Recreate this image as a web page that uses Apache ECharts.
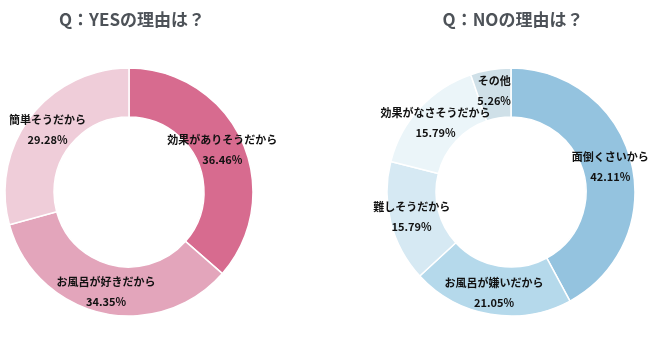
<!DOCTYPE html>
<html><head><meta charset="utf-8">
<script src="https://cdn.jsdelivr.net/npm/echarts@6/dist/echarts.min.js"></script>
<style>html,body{margin:0;padding:0;background:#fff}#c{width:650px;height:338px}</style>
</head><body><div id="c"></div>
<script>
const yesCategories = ['効果がありそうだから', 'お風呂が好きだから', '簡単そうだから'];
const yesValues = [36.46, 34.35, 29.28];
const yesColors = ['#d76b8f', '#e3a5bb', '#efcdd9'];
const noCategories = ['面倒くさいから', 'お風呂が嫌いだから', '難しそうだから', '効果がなさそうだから', 'その他'];
const noValues = [42.11, 21.05, 15.79, 15.79, 5.26];
const noColors = ['#94c3df', '#b5d9eb', '#d6e9f3', '#ebf5f9', '#cfe0e8'];

const font = '"Noto Sans CJK JP", "Noto Sans", sans-serif';
function mk(cats, vals, cols) {
  return cats.map((n, i) => ({ name: n, value: vals[i], itemStyle: { color: cols[i] } }));
}
const labelCfg = {
  show: true, position: 'inside', formatter: p => p.name + '\n' + p.value.toFixed(2) + '%',
  color: '#111', fontFamily: font, fontWeight: 'bold', fontSize: 11, lineHeight: 20
};
const chart = echarts.init(document.getElementById('c'), null, { renderer: 'canvas' });
chart.setOption({
  animation: false,
  title: [
    { text: 'Q：YESの理由は？', left: 127, top: 6, textAlign: 'center',
      textStyle: { fontFamily: font, fontWeight: 'bold', fontSize: 17, color: '#4d5258' } },
    { text: 'Q：NOの理由は？', left: 508, top: 6, textAlign: 'center',
      textStyle: { fontFamily: font, fontWeight: 'bold', fontSize: 17, color: '#4d5258' } }
  ],
  series: [
    { type: 'pie', center: [129, 192], radius: [75, 124], startAngle: 90, clockwise: true,
      avoidLabelOverlap: false, labelLayout: { hideOverlap: false },
      itemStyle: { borderColor: '#fff', borderWidth: 1.5 }, label: labelCfg, labelLine: { show: false },
      emphasis: { disabled: true }, data: mk(yesCategories, yesValues, yesColors) },
    { type: 'pie', center: [511, 192], radius: [75, 124], startAngle: 90, clockwise: true,
      avoidLabelOverlap: false, labelLayout: { hideOverlap: false },
      itemStyle: { borderColor: '#fff', borderWidth: 1.5 }, label: labelCfg, labelLine: { show: false },
      emphasis: { disabled: true }, data: mk(noCategories, noValues, noColors) }
  ]
});
</script></body></html>
